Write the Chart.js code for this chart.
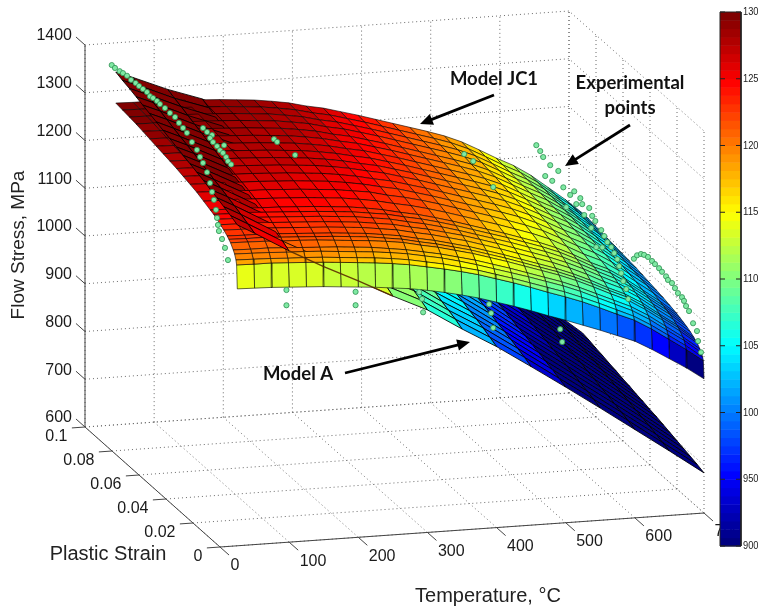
<!DOCTYPE html>
<html>
<head>
<meta charset="utf-8">
<title>Flow stress surfaces</title>
<style>
  html, body { margin: 0; padding: 0; background: #fff; }
  canvas { display: block; }
</style>
</head>
<body>
<canvas id="chart" width="758" height="609"></canvas>
<script src="https://cdn.jsdelivr.net/npm/chart.js@4"></script>
<script>
// ── axis ticks ────────────────────────────────────────
const tempTicks = [0, 100, 200, 300, 400, 500, 600, 700];
const strainTicks = [0, 0.02, 0.04, 0.06, 0.08, 0.1];
const strainTickLabels = ['0', '0.02', '0.04', '0.06', '0.08', '0.1'];
const stressTicks = [600, 700, 800, 900, 1000, 1100, 1200, 1300, 1400];
const colorTicks = [1300, 1250, 1200, 1150, 1100, 1050, 1000, 950, 900];
const colorTickLabels = ['130', '125', '120', '115', '110', '105', '100', '950', '900'];

// ── Model JC1 surface (one row per temperature) ───────
const jc1Temps = [25, 50, 75, 100, 125, 150, 175, 200, 225, 250, 275, 300, 325, 350, 375, 400, 425, 450, 475, 500, 525, 550, 575, 600, 625, 650, 675, 700];
const jc1Strains = [0, 0.0005, 0.001, 0.002, 0.003, 0.005, 0.00625, 0.0075, 0.01, 0.0125, 0.015, 0.0175, 0.02, 0.025, 0.03, 0.035, 0.04, 0.045, 0.05, 0.055, 0.06, 0.065, 0.07, 0.075, 0.08, 0.085, 0.09];
const jc1Stress = [
  [1138, 1187, 1196, 1206, 1212, 1222, 1226, 1230, 1236, 1241, 1246, 1250, 1253, 1259, 1265, 1269, 1273, 1277, 1280, 1283, 1286, 1289, 1292, 1295, 1297, 1299, 1301],
  [1137, 1186, 1195, 1205, 1211, 1221, 1225, 1229, 1235, 1240, 1245, 1249, 1252, 1258, 1264, 1268, 1272, 1276, 1279, 1282, 1285, 1288, 1291, 1294, 1296, 1298, 1300],
  [1136, 1186, 1194, 1204, 1211, 1220, 1225, 1229, 1235, 1240, 1245, 1249, 1252, 1258, 1263, 1268, 1272, 1276, 1279, 1282, 1285, 1288, 1291, 1294, 1296, 1298, 1300],
  [1134, 1184, 1192, 1202, 1209, 1218, 1223, 1227, 1233, 1238, 1243, 1247, 1250, 1256, 1261, 1266, 1270, 1274, 1277, 1280, 1283, 1286, 1289, 1292, 1294, 1296, 1298],
  [1132, 1182, 1191, 1201, 1207, 1217, 1221, 1225, 1231, 1236, 1241, 1245, 1249, 1255, 1260, 1265, 1269, 1273, 1276, 1279, 1282, 1285, 1288, 1291, 1293, 1295, 1297],
  [1130, 1180, 1189, 1199, 1205, 1215, 1219, 1223, 1229, 1234, 1239, 1243, 1247, 1253, 1258, 1263, 1267, 1271, 1274, 1277, 1280, 1283, 1286, 1289, 1291, 1293, 1295],
  [1127, 1177, 1186, 1196, 1203, 1212, 1217, 1221, 1227, 1232, 1237, 1241, 1245, 1251, 1256, 1261, 1265, 1269, 1272, 1275, 1278, 1281, 1284, 1287, 1289, 1291, 1293],
  [1124, 1174, 1183, 1193, 1200, 1209, 1214, 1218, 1224, 1229, 1234, 1238, 1242, 1248, 1253, 1258, 1262, 1266, 1269, 1272, 1275, 1278, 1281, 1284, 1286, 1288, 1290],
  [1121, 1171, 1180, 1190, 1197, 1206, 1211, 1215, 1221, 1226, 1231, 1235, 1239, 1245, 1250, 1255, 1259, 1263, 1266, 1269, 1272, 1275, 1278, 1281, 1283, 1285, 1287],
  [1117, 1167, 1176, 1186, 1192, 1202, 1206, 1210, 1216, 1221, 1226, 1230, 1234, 1240, 1245, 1250, 1254, 1258, 1261, 1264, 1267, 1270, 1273, 1276, 1278, 1280, 1282],
  [1113, 1162, 1171, 1181, 1187, 1197, 1201, 1205, 1211, 1216, 1221, 1225, 1228, 1234, 1240, 1244, 1248, 1252, 1255, 1258, 1261, 1264, 1267, 1270, 1272, 1274, 1276],
  [1107, 1155, 1164, 1174, 1180, 1189, 1193, 1197, 1203, 1208, 1213, 1217, 1220, 1226, 1231, 1236, 1240, 1244, 1247, 1250, 1253, 1256, 1258, 1261, 1263, 1265, 1267],
  [1100, 1148, 1157, 1167, 1173, 1182, 1186, 1190, 1196, 1201, 1206, 1210, 1213, 1219, 1224, 1229, 1233, 1237, 1240, 1243, 1246, 1249, 1251, 1254, 1256, 1258, 1260],
  [1092, 1140, 1148, 1158, 1164, 1173, 1177, 1181, 1187, 1192, 1197, 1201, 1204, 1210, 1215, 1219, 1223, 1227, 1230, 1233, 1236, 1239, 1241, 1244, 1246, 1248, 1250],
  [1083, 1131, 1139, 1148, 1155, 1164, 1168, 1172, 1178, 1183, 1187, 1191, 1194, 1200, 1205, 1209, 1213, 1217, 1220, 1223, 1226, 1229, 1231, 1234, 1236, 1238, 1240],
  [1072, 1120, 1128, 1137, 1144, 1153, 1157, 1161, 1167, 1172, 1176, 1180, 1183, 1189, 1194, 1198, 1202, 1206, 1209, 1212, 1215, 1218, 1220, 1223, 1225, 1227, 1229],
  [1061, 1109, 1117, 1126, 1133, 1142, 1146, 1150, 1156, 1161, 1165, 1169, 1172, 1178, 1183, 1187, 1191, 1195, 1198, 1201, 1204, 1207, 1209, 1212, 1214, 1216, 1218],
  [1049, 1097, 1105, 1115, 1121, 1130, 1134, 1138, 1144, 1149, 1154, 1158, 1161, 1167, 1172, 1176, 1180, 1184, 1187, 1190, 1193, 1196, 1198, 1201, 1203, 1205, 1207],
  [1036, 1084, 1093, 1103, 1109, 1118, 1122, 1126, 1132, 1137, 1142, 1146, 1149, 1155, 1160, 1165, 1169, 1173, 1176, 1179, 1182, 1185, 1187, 1190, 1192, 1194, 1196],
  [1024, 1072, 1081, 1091, 1097, 1106, 1110, 1114, 1120, 1125, 1130, 1134, 1137, 1143, 1148, 1153, 1157, 1161, 1164, 1167, 1170, 1173, 1175, 1178, 1180, 1182, 1184],
  [1011, 1059, 1067, 1077, 1083, 1092, 1096, 1100, 1106, 1111, 1116, 1120, 1123, 1129, 1134, 1138, 1142, 1146, 1149, 1152, 1155, 1158, 1160, 1163, 1165, 1167, 1169],
  [998, 1044, 1052, 1061, 1067, 1076, 1080, 1084, 1090, 1095, 1099, 1103, 1106, 1111, 1116, 1120, 1124, 1128, 1131, 1134, 1136, 1139, 1141, 1144, 1146, 1148, 1150],
  [984, 1028, 1036, 1045, 1051, 1059, 1063, 1066, 1072, 1077, 1081, 1084, 1087, 1092, 1097, 1101, 1105, 1109, 1112, 1115, 1117, 1120, 1122, 1124, 1126, 1128, 1130],
  [970, 1013, 1020, 1029, 1035, 1043, 1047, 1050, 1056, 1060, 1064, 1068, 1071, 1076, 1080, 1084, 1088, 1091, 1094, 1097, 1099, 1102, 1104, 1106, 1108, 1110, 1112],
  [950, 992, 999, 1008, 1014, 1021, 1025, 1029, 1034, 1038, 1042, 1045, 1048, 1053, 1058, 1062, 1065, 1068, 1071, 1074, 1077, 1079, 1081, 1083, 1085, 1087, 1089],
  [928, 968, 975, 983, 989, 996, 1000, 1003, 1008, 1012, 1016, 1019, 1022, 1027, 1031, 1035, 1038, 1041, 1044, 1047, 1049, 1052, 1054, 1056, 1057, 1059, 1061],
  [906, 944, 951, 959, 964, 971, 975, 978, 983, 987, 990, 993, 996, 1001, 1005, 1008, 1011, 1014, 1017, 1020, 1022, 1024, 1026, 1028, 1030, 1032, 1033],
  [881, 918, 924, 931, 936, 943, 946, 949, 954, 958, 961, 964, 967, 971, 975, 978, 981, 984, 987, 989, 991, 993, 995, 997, 999, 1001, 1002],
];

// ── Model A surface ───────────────────────────────────
const modelATemps = [25, 50, 100, 150, 200, 250, 300, 350, 400, 450, 500, 550, 600, 650, 700];
const modelAStrains = [0, 0.005, 0.01, 0.015, 0.02, 0.025, 0.03, 0.035, 0.04, 0.045, 0.05, 0.055, 0.06, 0.065, 0.07, 0.075, 0.08, 0.085, 0.09];
const modelAStress = [
  [1272, 1279, 1285, 1291, 1296, 1302, 1307, 1312, 1317, 1322, 1327, 1332, 1337, 1342, 1347, 1352, 1357, 1361, 1366],
  [1252, 1259, 1266, 1272, 1278, 1284, 1289, 1295, 1300, 1306, 1311, 1316, 1321, 1327, 1332, 1337, 1342, 1347, 1352],
  [1210, 1218, 1225, 1232, 1239, 1245, 1252, 1258, 1264, 1270, 1276, 1282, 1288, 1294, 1299, 1305, 1311, 1316, 1322],
  [1172, 1181, 1189, 1197, 1204, 1212, 1219, 1226, 1232, 1239, 1246, 1252, 1259, 1265, 1272, 1278, 1284, 1291, 1297],
  [1137, 1146, 1154, 1161, 1169, 1176, 1183, 1190, 1196, 1203, 1209, 1216, 1222, 1229, 1235, 1241, 1248, 1254, 1260],
  [1100, 1109, 1116, 1123, 1130, 1137, 1144, 1151, 1157, 1163, 1170, 1176, 1182, 1188, 1194, 1200, 1206, 1212, 1218],
  [1066, 1074, 1081, 1088, 1094, 1101, 1107, 1113, 1119, 1125, 1131, 1137, 1142, 1148, 1154, 1159, 1165, 1171, 1176],
  [1021, 1029, 1035, 1041, 1048, 1054, 1059, 1065, 1071, 1076, 1082, 1087, 1092, 1098, 1103, 1108, 1114, 1119, 1124],
  [979, 986, 993, 999, 1004, 1010, 1015, 1021, 1026, 1032, 1037, 1042, 1047, 1052, 1057, 1062, 1067, 1072, 1077],
  [932, 939, 945, 951, 956, 961, 967, 972, 977, 982, 987, 992, 997, 1001, 1006, 1011, 1016, 1020, 1025],
  [884, 890, 896, 901, 906, 911, 916, 920, 925, 930, 934, 939, 943, 947, 952, 956, 960, 965, 969],
  [835, 841, 846, 851, 856, 861, 866, 870, 875, 879, 883, 888, 892, 896, 900, 905, 909, 913, 917],
  [785, 791, 796, 801, 806, 810, 815, 819, 824, 828, 832, 836, 841, 845, 849, 853, 857, 861, 865],
  [735, 740, 745, 750, 754, 758, 763, 767, 771, 775, 779, 783, 786, 790, 794, 798, 802, 805, 809],
  [684, 689, 693, 697, 701, 705, 709, 713, 716, 720, 723, 727, 730, 734, 737, 741, 744, 748, 751],
];

// ── experimental points, one list per temperature ─────
const expTemps = [25, 100, 200, 600, 700, 500, 100, 200, 300, 400, 500];
const expStrains = [
  [0.0930, 0.0906, 0.0871, 0.0847, 0.0817, 0.0787, 0.0753, 0.0728, 0.0699, 0.0669, 0.0647, 0.0624, 0.0595, 0.0573, 0.0536, 0.0499, 0.0461, 0.0432, 0.0402, 0.0373, 0.0336, 0.0299, 0.0276, 0.0254, 0.0224, 0.0202, 0.0187, 0.0173, 0.0158, 0.0150, 0.0143, 0.0136, 0.0113, 0.0091, 0.0069],
  [0.0638, 0.0608, 0.0571, 0.0586, 0.0564, 0.0534, 0.0482, 0.0512, 0.0490, 0.0467, 0.0453, 0.0430],
  [0.0624, 0.0601, 0.0468],
  [0.0730, 0.0701, 0.0679, 0.0627, 0.0567, 0.0664, 0.0612, 0.0530, 0.0479, 0.0449, 0.0404, 0.0390, 0.0434, 0.0508, 0.0338, 0.0375, 0.0316, 0.0293, 0.0323, 0.0249, 0.0227, 0.0204, 0.0175, 0.0286, 0.0241, 0.0153, 0.0130, 0.0116, 0.0101, 0.0086, 0.0064, 0.0049],
  [0.0519, 0.0496, 0.0467, 0.0444, 0.0415, 0.0385, 0.0363, 0.0333, 0.0311, 0.0281, 0.0267, 0.0237, 0.0215, 0.0193, 0.0163, 0.0148, 0.0133, 0.0111, 0.0081, 0.0052, 0.0044, 0.0022],
  [0.0752, 0.0685, 0.0537],
  [0.002, 0.002],
  [0.002, 0.002],
  [0.0061, 0.004, 0.0032],
  [0.0055, 0.004, 0.0025],
  [0.0041, 0.0026],
];
const expStress = [
  [1373, 1373, 1375, 1377, 1379, 1378, 1380, 1380, 1381, 1382, 1379, 1381, 1382, 1381, 1382, 1381, 1382, 1377, 1374, 1371, 1361, 1354, 1345, 1338, 1326, 1309, 1294, 1281, 1264, 1249, 1236, 1225, 1214, 1201, 1181],
  [1307, 1306, 1309, 1299, 1296, 1295, 1310, 1292, 1292, 1289, 1284, 1283],
  [1277, 1277, 1283],
  [1197, 1192, 1185, 1181, 1184, 1149, 1152, 1159, 1156, 1171, 1168, 1159, 1148, 1123, 1164, 1140, 1153, 1148, 1126, 1140, 1133, 1126, 1123, 1095, 1106, 1116, 1109, 1098, 1087, 1074, 1063, 1046],
  [1002, 1015, 1025, 1029, 1032, 1031, 1030, 1029, 1027, 1025, 1021, 1022, 1017, 1012, 1011, 1007, 1000, 995, 977, 968, 949, 931],
  [1183, 1185, 1168],
  [1123, 1091],
  [1109, 1081],
  [1088, 1079, 1053],
  [1054, 1039, 1012],
  [995, 972],
];

// ── view of the 3D box (orthographic, px per unit) ────
const originX = 220, originY = 547;
const tempX = 484 / 700, tempY = -34 / 700;
const strainX = -1350, strainY = -1200;
const stressY = -382 / 800;

function project(temp, strain, stress) {
  return {
    x: originX + temp * tempX + strain * strainX,
    y: originY + temp * tempY + strain * strainY + (stress - 600) * stressY,
  };
}

// closer to the viewer = larger
function nearness(temp, strain, stress) {
  return -0.279 * temp / 700 - strain / 0.1 + 0.339 * (stress - 600) / 800;
}

// MATLAB jet, 64 levels
function jetColor(value) {
  const t = Math.max(0, Math.min(0.9999, (value - 900) / 400));
  const v = Math.floor(t * 64) / 63;
  const c = x => Math.round(255 * Math.max(0, Math.min(1, x)));
  const r = c(Math.min(4 * v - 1.5, -4 * v + 4.5));
  const g = c(Math.min(4 * v - 0.5, -4 * v + 3.5));
  const b = c(Math.min(4 * v + 0.5, -4 * v + 2.5));
  return `rgb(${r},${g},${b})`;
}

function lineSet(points, color, width, dash) {
  return {
    data: points, showLine: true, borderColor: color, borderWidth: width,
    borderDash: dash || [], pointRadius: 0, tension: 0, fill: false,
  };
}

// ── box, grid ─────────────────────────────────────────
function gridSets() {
  const sets = [];
  const dotted = (pts) => sets.push(lineSet(pts, '#6a6a6a', 1, [1, 3]));
  stressTicks.forEach(s => dotted([project(0, 0.1, s), project(700, 0.1, s), project(700, 0, s)]));
  tempTicks.forEach(t => {
    dotted([project(t, 0.1, 600), project(t, 0.1, 1400)]);
    dotted([project(t, 0, 600), project(t, 0.1, 600)]);
  });
  strainTicks.forEach(e => {
    dotted([project(700, e, 600), project(700, e, 1400)]);
    dotted([project(0, e, 600), project(700, e, 600)]);
  });
  return sets;
}

function axisSets() {
  const sets = [];
  const solid = (pts) => sets.push(lineSet(pts, '#444', 1));
  solid([project(0, 0.1, 600), project(0, 0.1, 1400)]);
  solid([project(0, 0.1, 600), project(0, 0, 600)]);
  solid([project(0, 0, 600), project(700, 0, 600)]);
  tempTicks.forEach(t => solid([project(t, 0, 600), project(t, -0.0067, 600)]));
  strainTicks.forEach(e => solid([project(0, e, 600), project(-19, e, 600)]));
  stressTicks.forEach(s => solid([project(0, 0.1, s), project(0, 0.1067, s)]));
  return sets;
}

// ── surfaces: one closed dataset per mesh cell ────────
function surfaceCells(temps, strains, stress, lineColor, lineWidth) {
  const cells = [];
  for (let i = 0; i < temps.length - 1; i++) {
    for (let j = 0; j < strains.length - 1; j++) {
      const a = project(temps[i], strains[j], stress[i][j]);
      const b = project(temps[i + 1], strains[j], stress[i + 1][j]);
      const c = project(temps[i + 1], strains[j + 1], stress[i + 1][j + 1]);
      const d = project(temps[i], strains[j + 1], stress[i][j + 1]);
      const mean = (stress[i][j] + stress[i + 1][j] + stress[i + 1][j + 1] + stress[i][j + 1]) / 4;
      const set = lineSet([a, b, c, d, a], lineColor, lineWidth);
      set.cellFill = jetColor(stress[i][j]);
      set.near = nearness((temps[i] + temps[i + 1]) / 2, (strains[j] + strains[j + 1]) / 2, mean);
      cells.push(set);
    }
  }
  return cells;
}

// Model A's front edge, a thin sliver that runs over JC1's first mesh row
function modelAEdgeSet() {
  const pts = [2, 3, 4, 5].map(i => project(modelATemps[i], modelAStrains[0], modelAStress[i][0]));
  return lineSet(pts, 'rgba(90,45,0,0.9)', 1.3);
}

// ── colour bar ────────────────────────────────────────
const barLeft = 720, barRight = 741, barTop = 12, barBottom = 546;
const barY = v => barBottom - (v - 900) * (barBottom - barTop) / 400;

function colorBarSets() {
  const sets = [];
  for (let k = 0; k < 64; k++) {
    const lo = 900 + k * 400 / 64, hi = 900 + (k + 1) * 400 / 64;
    const set = lineSet([
      { x: barLeft, y: barY(lo) + 0.5 }, { x: barRight, y: barY(lo) + 0.5 },
      { x: barRight, y: barY(hi) }, { x: barLeft, y: barY(hi) },
    ], 'rgba(0,0,0,0)', 0);
    set.cellFill = jetColor(lo + 1);
    sets.push(set);
  }
  sets.push(lineSet([
    { x: barLeft, y: barTop }, { x: barRight, y: barTop }, { x: barRight, y: barBottom },
    { x: barLeft, y: barBottom }, { x: barLeft, y: barTop },
  ], '#222', 1));
  colorTicks.forEach(v => {
    sets.push(lineSet([{ x: barLeft, y: barY(v) }, { x: barLeft + 5, y: barY(v) }], '#222', 1));
    sets.push(lineSet([{ x: barRight - 5, y: barY(v) }, { x: barRight, y: barY(v) }], '#222', 1));
  });
  return sets;
}

function expSets() {
  return expTemps.map((t, i) => ({
    data: expStrains[i].map((e, k) => project(t, e, expStress[i][k])),
    showLine: false,
    pointRadius: 2.6,
    pointBackgroundColor: '#7fe9a3',
    pointBorderColor: '#2f8f52',
    pointBorderWidth: 0.8,
  }));
}

// paint order: bottom first, chart.js draws high `order` first
const surfaces = surfaceCells(jc1Temps, jc1Strains, jc1Stress, 'rgba(0,0,0,0.85)', 0.7)
  .concat(surfaceCells(modelATemps, modelAStrains, modelAStress, 'rgba(0,0,0,0.95)', 0.9))
  .sort((p, q) => p.near - q.near);
const allSets = [].concat(gridSets(), axisSets(), surfaces, [modelAEdgeSet()], colorBarSets(), expSets());
allSets.forEach((set, i) => { set.order = allSets.length - i; });

// fills each cell under its outline, using the points the scales placed
const cellFillPlugin = {
  id: 'cellFill',
  beforeDatasetDraw(chart, args) {
    const fill = chart.data.datasets[args.index].cellFill;
    if (!fill) return;
    const pts = args.meta.data;
    const ctx = chart.ctx;
    ctx.save();
    ctx.fillStyle = fill;
    ctx.beginPath();
    pts.forEach((p, i) => (i ? ctx.lineTo(p.x, p.y) : ctx.moveTo(p.x, p.y)));
    ctx.closePath();
    ctx.fill();
    ctx.restore();
  },
};

// ── axis text, under the marks so the bar cuts the last label ──
const axisTextPlugin = {
  id: 'axisText',
  beforeDatasetsDraw(chart) {
    const ctx = chart.ctx;
    const sx = chart.scales.x, sy = chart.scales.y;
    const at = p => ({ x: sx.getPixelForValue(p.x), y: sy.getPixelForValue(p.y) });
    ctx.save();
    ctx.fillStyle = '#1a1a1a';
    ctx.textBaseline = 'middle';
    ctx.font = '16px "Liberation Sans"';

    ctx.textAlign = 'right';
    stressTicks.forEach(s => {
      const p = at(project(0, 0.1, s));
      ctx.fillText(String(s), p.x - 13, p.y - 9);
    });
    strainTicks.forEach((e, i) => {
      const p = at(project(0, e, 600));
      ctx.fillText(strainTickLabels[i], p.x - 17.5, p.y + 10);
    });
    ctx.textAlign = 'left';
    tempTicks.forEach(t => {
      const p = at(project(t, 0, 600));
      ctx.fillText(String(t), p.x + 10.5, p.y + 19);
    });

    ctx.font = '20px "Liberation Sans"';
    ctx.fillStyle = '#222';
    ctx.textAlign = 'center';
    ctx.fillText('Plastic Strain', 108, 554);
    ctx.fillText('Temperature, °C', 488, 596);
    ctx.save();
    ctx.translate(19, 245);
    ctx.rotate(-Math.PI / 2);
    ctx.font = '19px "Liberation Sans"';
    ctx.fillText('Flow Stress, MPa', 0, 0);
    ctx.restore();
    ctx.restore();
  },
  afterDatasetsDraw(chart) {
    const ctx = chart.ctx;
    ctx.save();
    ctx.font = '11px "Liberation Sans"';
    ctx.fillStyle = '#222';
    ctx.textAlign = 'left';
    ctx.textBaseline = 'middle';
    colorTicks.forEach((v, i) => ctx.fillText(colorTickLabels[i], 743, barY(v), 15.5));

    ctx.font = 'bold 18.5px Lato';
    ctx.fillStyle = '#111';
    ctx.textAlign = 'center';
    ctx.fillText('Model JC1', 494, 79);
    ctx.fillText('Experimental', 630, 83);
    ctx.fillText('points', 630, 108);
    ctx.fillText('Model A', 298, 374);

    const arrow = (x0, y0, x1, y1) => {
      const a = Math.atan2(y1 - y0, x1 - x0);
      ctx.strokeStyle = '#000';
      ctx.fillStyle = '#000';
      ctx.lineWidth = 2.8;
      ctx.beginPath();
      ctx.moveTo(x0, y0);
      ctx.lineTo(x1 - 10 * Math.cos(a), y1 - 10 * Math.sin(a));
      ctx.stroke();
      ctx.beginPath();
      ctx.moveTo(x1, y1);
      ctx.lineTo(x1 - 14 * Math.cos(a - 0.42), y1 - 14 * Math.sin(a - 0.42));
      ctx.lineTo(x1 - 14 * Math.cos(a + 0.42), y1 - 14 * Math.sin(a + 0.42));
      ctx.closePath();
      ctx.fill();
    };
    arrow(494, 95, 420, 124);
    arrow(630, 125, 565, 166);
    arrow(345, 373, 470, 342);
    ctx.restore();
  },
};

new Chart(document.getElementById('chart'), {
  type: 'scatter',
  data: { datasets: allSets },
  plugins: [cellFillPlugin, axisTextPlugin],
  options: {
    responsive: false,
    animation: false,
    layout: { padding: 0, autoPadding: false },
    events: [],
    plugins: { legend: { display: false }, tooltip: { enabled: false } },
    scales: {
      x: { type: 'linear', min: 0, max: 758, display: false },
      y: { type: 'linear', min: 0, max: 609, reverse: true, display: false },
    },
  },
});
</script>
</body>
</html>
